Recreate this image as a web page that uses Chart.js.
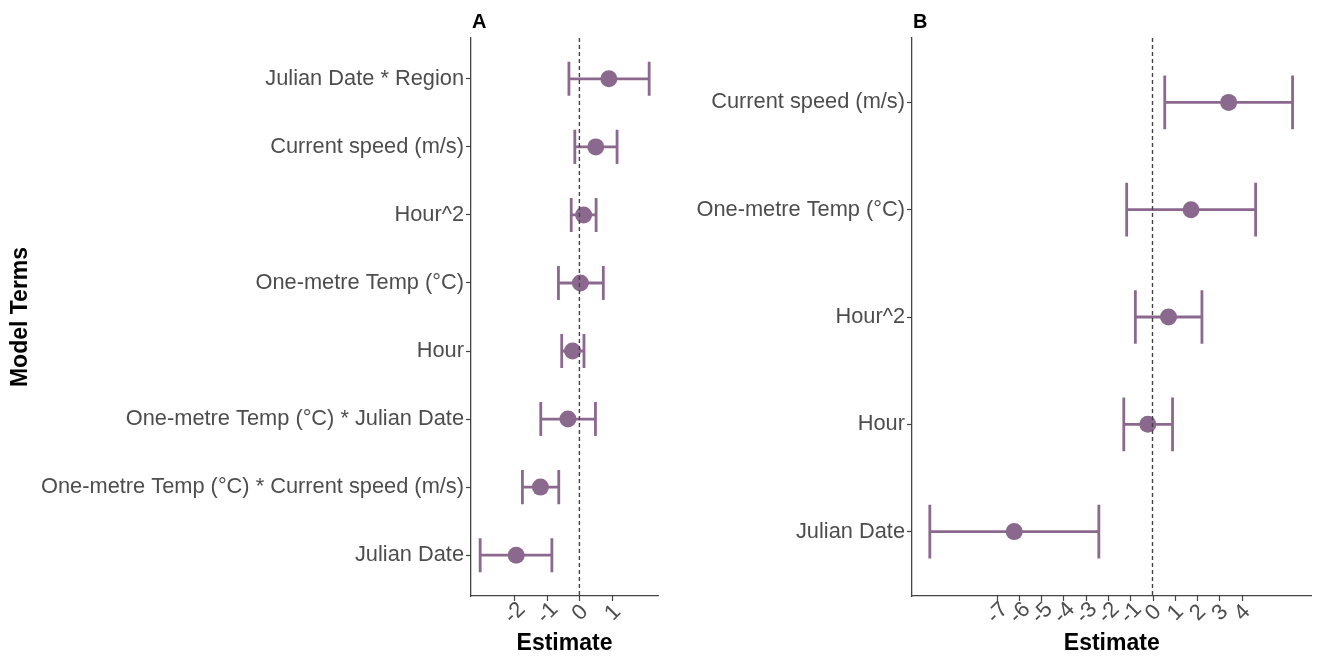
<!DOCTYPE html>
<html>
<head>
<meta charset="utf-8">
<script src="https://cdn.jsdelivr.net/npm/chart.js@4"></script>
<style>
html, body { margin: 0; padding: 0; background: #fff; }
#wrap { position: relative; width: 1320px; height: 657px; }
.panel { position: absolute; top: 0; height: 657px; }
#panelA { left: 0; width: 690px; }
#panelB { left: 690px; width: 630px; }
</style>
</head>
<body>
<div id="wrap">
  <div class="panel" id="panelA"><canvas id="chartA"></canvas></div>
  <div class="panel" id="panelB"><canvas id="chartB"></canvas></div>
</div>
<script>
// panel A - terms listed top to bottom
const termsA = ['Julian Date * Region', 'Current speed (m/s)', 'Hour^2', 'One-metre Temp (°C)', 'Hour',
    'One-metre Temp (°C) * Julian Date', 'One-metre Temp (°C) * Current speed (m/s)', 'Julian Date'];
const estA  = [0.90, 0.50, 0.13, 0.03, -0.21, -0.35, -1.19, -1.93];
const lowA  = [-0.32, -0.14, -0.25, -0.64, -0.54, -1.18, -1.74, -3.03];
const highA = [2.13, 1.15, 0.51, 0.73, 0.14, 0.49, -0.63, -0.84];
const ticksA = [-2, -1, 0, 1];

// panel B
const termsB = ['Current speed (m/s)', 'One-metre Temp (°C)', 'Hour^2', 'Hour', 'Julian Date'];
const estB  = [3.42, 1.73, 0.72, -0.21, -6.21];
const lowB  = [0.55, -1.16, -0.77, -1.29, -10.0];
const highB = [6.29, 4.63, 2.22, 0.90, -2.41];
const ticksB = [-7, -6, -5, -4, -3, -2, -1, 0, 1, 2, 3, 4];

const PURPLE = '#8b698e';
const TEXT = '#4d4d4d';
const AXIS = '#444444';
const FONT = '"Liberation Sans", Arial, Helvetica, sans-serif';

const errorBars = {
    id: 'errorBars',
    beforeDatasetsDraw(chart, args, opts) {
        const { ctx, scales: { x, y } } = chart;
        ctx.save();
        ctx.strokeStyle = PURPLE;
        ctx.lineWidth = 2.8;
        opts.low.forEach((lo, i) => {
            const v = i + 1;
            const x1 = x.getPixelForValue(lo), x2 = x.getPixelForValue(opts.high[i]);
            const yc = y.getPixelForValue(v);
            const yt = y.getPixelForValue(v - 0.25), yb = y.getPixelForValue(v + 0.25);
            ctx.beginPath();
            ctx.moveTo(x1, yc); ctx.lineTo(x2, yc);
            ctx.moveTo(x1, yt); ctx.lineTo(x1, yb);
            ctx.moveTo(x2, yt); ctx.lineTo(x2, yb);
            ctx.stroke();
        });
        ctx.restore();
    },
    afterDatasetsDraw(chart) {
        const { ctx, chartArea, scales: { x } } = chart;
        const x0 = x.getPixelForValue(0);
        ctx.save();
        ctx.strokeStyle = AXIS;
        ctx.lineWidth = 1.4;
        ctx.setLineDash([4, 3]);
        ctx.beginPath();
        ctx.moveTo(x0, chartArea.top);
        ctx.lineTo(x0, chartArea.bottom);
        ctx.stroke();
        ctx.restore();
    },
    afterDraw(chart, args, opts) {
        const { ctx, chartArea, scales: { x } } = chart;
        ctx.save();
        // panel letter
        ctx.font = 'bold 20px ' + FONT;
        ctx.fillStyle = '#000';
        ctx.textAlign = 'left';
        ctx.textBaseline = 'alphabetic';
        ctx.fillText(opts.letter, chartArea.left + 1, 28);
        // x tick marks
        ctx.strokeStyle = AXIS;
        ctx.lineWidth = 1.2;
        ctx.beginPath();
        x.ticks.forEach(t => {
            const px = Math.round(x.getPixelForValue(t.value)) + 0.5;
            ctx.moveTo(px, chartArea.bottom);
            ctx.lineTo(px, chartArea.bottom + 5);
        });
        ctx.stroke();
        // rotated x tick labels, centred under the tick like ggplot
        ctx.font = '22px ' + FONT;
        ctx.fillStyle = TEXT;
        ctx.textAlign = 'center';
        ctx.textBaseline = 'middle';
        x.ticks.forEach(t => {
            ctx.save();
            ctx.translate(x.getPixelForValue(t.value) + 1, chartArea.bottom + 17);
            ctx.rotate(-Math.PI / 4);
            ctx.fillText(String(t.value), 0, 0);
            ctx.restore();
        });
        ctx.restore();
    }
};

function makeChart(id, cfg) {
    const n = cfg.terms.length;
    return new Chart(document.getElementById(id), {
        type: 'scatter',
        data: {
            datasets: [{
                data: cfg.est.map((e, i) => ({ x: e, y: i + 1 })),
                backgroundColor: PURPLE,
                borderWidth: 0,
                pointRadius: 8.5,
                pointHoverRadius: 8.5
            }]
        },
        options: {
            responsive: true,
            maintainAspectRatio: false,
            animation: false,
            events: [],
            layout: { padding: { top: 38, right: cfg.padRight, bottom: 0, left: 0 } },
            plugins: {
                legend: { display: false },
                tooltip: { enabled: false },
                errorBars: { low: cfg.low, high: cfg.high, letter: cfg.letter }
            },
            scales: {
                x: {
                    type: 'linear',
                    min: cfg.xMin,
                    max: cfg.xMax,
                    afterBuildTicks: s => { s.ticks = cfg.xTicks.map(v => ({ value: v })); },
                    afterFit: s => { s.height = 61; },
                    // labels and tick marks are drawn by the plugin
                    ticks: { display: false },
                    grid: { display: false },
                    border: { display: true, color: AXIS, width: 1.3 },
                    title: { display: true, text: 'Estimate', color: '#000', font: { family: FONT, size: 23, weight: 'bold' }, padding: { top: 0, bottom: 0 } }
                },
                y: {
                    type: 'linear',
                    reverse: true,
                    min: 0.4,
                    max: n + 0.6,
                    afterBuildTicks: s => { s.ticks = cfg.terms.map((_, i) => ({ value: i + 1 })); },
                    afterFit: s => { s.width = cfg.yWidth; },
                    ticks: {
                        autoSkip: false,
                        padding: 2,
                        color: TEXT,
                        font: { family: FONT, size: 21.8 },
                        callback: v => cfg.terms[v - 1]
                    },
                    grid: { display: true, drawOnChartArea: false, drawTicks: true, tickLength: 5, tickColor: AXIS, tickWidth: 1.2 },
                    border: { display: true, color: AXIS, width: 1.3 },
                    title: { display: cfg.yTitle, text: 'Model Terms', color: '#000', font: { family: FONT, size: 23, weight: 'bold' }, padding: { top: 7 } }
                }
            }
        },
        plugins: [errorBars]
    });
}

makeChart('chartA', { terms: termsA, est: estA, low: lowA, high: highA, xTicks: ticksA,
    xMin: -3.31, xMax: 2.4, yWidth: 471, padRight: 32, yTitle: true, letter: 'A' });
makeChart('chartB', { terms: termsB, est: estB, low: lowB, high: highB, xTicks: ticksB,
    xMin: -10.8, xMax: 7.14, yWidth: 222, padRight: 6, yTitle: false, letter: 'B' });
</script>
</body>
</html>
